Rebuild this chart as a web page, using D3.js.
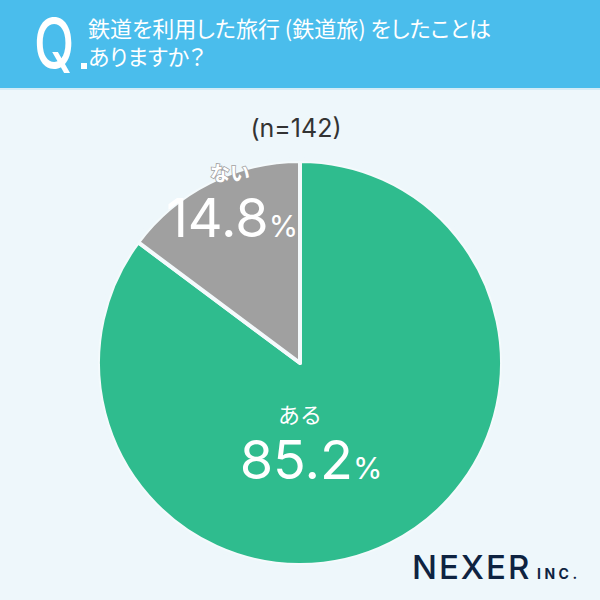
<!DOCTYPE html>
<html>
<head>
<meta charset="utf-8">
<script src="https://cdn.jsdelivr.net/npm/d3@7"></script>
<style>
  body { margin: 0; background: #eef7fb; }
  svg { display: block; }
</style>
</head>
<body>
<div id="chart"></div>
<script>
var svgWidth = 600;
var svgHeight = 600;

// data
var labels = ['ある', 'ない'];
var values = [85.2, 14.8];
var colors = ['#2fbc8e', '#a0a0a0'];
var sampleText = '(n=142)';
var titleLines = ['鉄道を利用した旅行 (鉄道旅) をしたことは', 'ありますか？'];

var cx = 300, cy = 363, radius = 202;
var bg = '#eef7fb';
var jpFont = '"Noto Sans CJK JP", "Noto Sans", sans-serif';
var numFont = 'Inter, "Noto Sans", sans-serif';

var svg = d3.select('#chart').append('svg')
  .attr('width', svgWidth)
  .attr('height', svgHeight);

svg.append('rect')
  .attr('width', svgWidth)
  .attr('height', svgHeight)
  .attr('fill', bg);

// header band
svg.append('rect')
  .attr('width', svgWidth)
  .attr('height', 88)
  .attr('fill', '#4abdec');
svg.append('rect')
  .attr('y', 88)
  .attr('width', svgWidth)
  .attr('height', 2)
  .attr('fill', '#d3ecf7');

svg.append('text')
  .attr('transform', 'translate(34, 68) scale(0.76, 1)')
  .attr('font-family', numFont)
  .attr('font-size', 69)
  .attr('font-weight', 500)
  .attr('fill', '#fff')
  .text('Q');
svg.append('rect')
  .attr('x', 81)
  .attr('y', 63)
  .attr('width', 6)
  .attr('height', 6)
  .attr('fill', '#fff');

var title = svg.append('text')
  .attr('font-family', jpFont)
  .attr('font-size', 22)
  .style('font-feature-settings', '"palt"')
  .attr('fill', '#fff');
title.selectAll('tspan')
  .data(titleLines)
  .enter()
  .append('tspan')
  .attr('x', 88)
  .attr('y', (d, i) => 37 + i * 28)
  .text(d => d);

// sample size
svg.append('text')
  .attr('x', 296)
  .attr('y', 137)
  .attr('text-anchor', 'middle')
  .attr('font-family', numFont)
  .attr('font-size', 25)
  .attr('fill', '#333')
  .text(sampleText);

// pie
var pie = d3.pie().sort(null).value(d => d);
var arc = d3.arc().innerRadius(0).outerRadius(radius);
var arcs = pie(values);

var pieGroup = svg.append('g')
  .attr('transform', `translate(${cx}, ${cy})`);

pieGroup.selectAll('path')
  .data(arcs)
  .enter()
  .append('path')
  .attr('d', arc)
  .attr('fill', (d, i) => colors[i])
  .attr('stroke', '#f4fafc')
  .attr('stroke-width', 4)
  .attr('stroke-linejoin', 'round');

// outer edge should not show the divider stroke
pieGroup.append('circle')
  .attr('r', radius + 2)
  .attr('fill', 'none')
  .attr('stroke', bg)
  .attr('stroke-width', 4);

// label placement per slice
var labelPos = [
  {lx: 0, ly: 60, nx: 11, ny: 116, ns: 54, ps: 30, ls: 22},
  {lx: -70, ly: -182, nx: -68, ny: -126, ns: 54, ps: 30, ls: 20}
];

arcs.forEach(function(d, i) {
  var p = labelPos[i];
  pieGroup.append('text')
    .attr('x', p.lx)
    .attr('y', p.ly)
    .attr('text-anchor', 'middle')
    .attr('font-family', jpFont)
    .attr('font-size', p.ls)
    .attr('font-weight', i == 1 ? 700 : 400)
    .attr('fill', '#fff')
    .attr('stroke', i == 1 ? '#a0a0a0' : 'none')
    .attr('stroke-width', 1.5)
    .attr('paint-order', 'stroke')
    .text(labels[i]);

  var t = pieGroup.append('text')
    .attr('x', p.nx)
    .attr('y', p.ny)
    .attr('text-anchor', 'middle')
    .attr('font-family', numFont)
    .attr('fill', '#fff');
  t.append('tspan')
    .attr('font-size', p.ns)
    .text(values[i].toFixed(1));
  t.append('tspan')
    .attr('font-size', p.ps)
    .text('%');
});

// logo
svg.append('text')
  .attr('x', 412)
  .attr('y', 579)
  .attr('font-family', numFont)
  .attr('font-size', 33)
  .attr('font-weight', 500)
  .attr('letter-spacing', 2)
  .attr('fill', '#0e2341')
  .text('NEXER');
svg.append('text')
  .attr('x', 537)
  .attr('y', 579)
  .attr('font-family', numFont)
  .attr('font-size', 14)
  .attr('font-weight', 700)
  .attr('letter-spacing', 3.5)
  .attr('fill', '#0e2341')
  .text('INC.');
</script>
</body>
</html>
